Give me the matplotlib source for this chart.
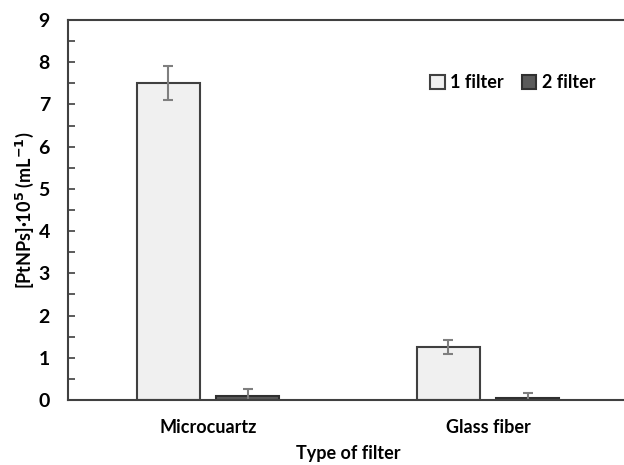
import numpy as np
import matplotlib.pyplot as plt
from matplotlib.ticker import MultipleLocator

categories = ['Microcuartz', 'Glass fiber']
one_filter = [7.5, 1.25]
one_filter_err = [0.40, 0.17]
two_filter = [0.09, 0.04]
two_filter_err = [0.16, 0.12]

plt.rcParams['font.family'] = ['Lato', 'DejaVu Sans']
plt.rcParams['font.weight'] = 'bold'

fig = plt.figure(figsize=(6.24, 4.65), dpi=100)
ax = fig.add_axes([68 / 624, 65 / 465, 560 / 624, 380 / 465])

x = np.arange(len(categories))
w = 0.225
off = 0.142
err_kw = dict(ecolor='#7f7f7f', elinewidth=1.5, capsize=3.5, capthick=1.5)
ax.bar(x - off, one_filter, w, yerr=one_filter_err, color='#f0f0f0',
       edgecolor='#404040', linewidth=1.5, label='1 filter', error_kw=err_kw)
ax.bar(x + off, two_filter, w, yerr=two_filter_err, color='#5a5a5a',
       edgecolor='#303030', linewidth=1.5, label='2 filter', error_kw=err_kw)

ax.set_xlim(-0.5, 1.5)
ax.set_ylim(0, 9)
ax.yaxis.set_major_locator(MultipleLocator(1))
ax.yaxis.set_minor_locator(MultipleLocator(0.5))
ax.set_xticks(x)
ax.set_xticklabels(categories, fontsize=13, fontweight='bold')
ax.tick_params(axis='x', length=0, pad=14)
ax.tick_params(axis='y', which='both', direction='in', length=5, width=1.2,
               color='#404040', labelsize=14, pad=13)
for lab in ax.get_yticklabels():
    lab.set_fontweight('bold')

for s in ['left', 'bottom', 'top']:
    ax.spines[s].set_color('#404040')
    ax.spines[s].set_linewidth(1.5)
ax.spines['right'].set_visible(False)

ax.set_ylabel('[PtNPs]·10$^{\\mathbf{5}}$ (mL$^{\\mathbf{-1}}$)', fontsize=13,
              fontweight='bold', labelpad=2)
ax.set_xlabel('Type of filter', fontsize=13, fontweight='bold', labelpad=6)

ax.legend(loc='upper left', bbox_to_anchor=(0.618, 0.9), ncol=2, frameon=False,
          handlelength=0.8, handleheight=0.8, handletextpad=0.3,
          columnspacing=1.0, prop={'weight': 'bold', 'size': 13})

fig.savefig('out.png', dpi=100)
